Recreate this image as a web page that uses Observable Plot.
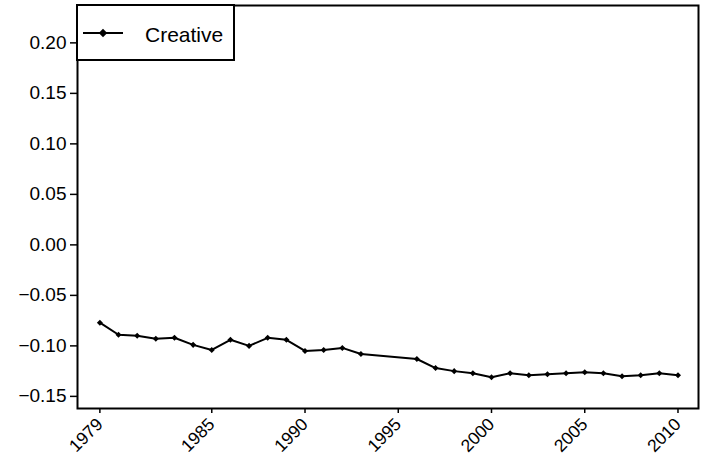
<!DOCTYPE html>
<html>
<head>
<meta charset="utf-8">
<script src="https://cdn.jsdelivr.net/npm/d3@7"></script>
<script src="https://cdn.jsdelivr.net/npm/@observablehq/plot@0.6"></script>
<style>
  html, body { margin: 0; padding: 0; background: #fff; }
  #chart { position: relative; width: 707px; height: 468px; }
  #legend { position: absolute; left: 0; top: 0; }
</style>
</head>
<body>
<div id="chart"></div>
<script>
// Yearly index for the "Creative" series (no observations for 1994–1995)
const years = [1979, 1980, 1981, 1982, 1983, 1984, 1985, 1986, 1987, 1988, 1989, 1990, 1991, 1992, 1993,
               1996, 1997, 1998, 1999, 2000, 2001, 2002, 2003, 2004, 2005, 2006, 2007, 2008, 2009, 2010];
const creative = [-0.077, -0.089, -0.090, -0.093, -0.092, -0.099, -0.104, -0.094, -0.100, -0.092, -0.094, -0.105, -0.104, -0.102, -0.108,
                  -0.113, -0.122, -0.125, -0.127, -0.131, -0.127, -0.129, -0.128, -0.127, -0.126, -0.127, -0.130, -0.129, -0.127, -0.129];
const seriesName = "Creative";
const xTicks = [1979, 1985, 1990, 1995, 2000, 2005, 2010];
const yTicks = [-0.15, -0.10, -0.05, 0.00, 0.05, 0.10, 0.15, 0.20];

const data = years.map((year, i) => ({year, value: creative[i]}));

const font = "'Liberation Sans', Arial, Helvetica, sans-serif";
const fmtY = d => d3.format(".2f")(d).replace(/^[-\u2212]/, "\u2212");

const plot = Plot.plot({
  width: 707,
  height: 468,
  marginLeft: 77,
  marginRight: 9,
  marginTop: 5,
  marginBottom: 60,
  style: {fontFamily: font, color: "black", background: "white"},
  x: {domain: [1977.8, 2011.1], label: null},
  y: {domain: [-0.162, 0.237], label: null},
  marks: [
    Plot.axisX({ticks: xTicks, tickFormat: d => String(d), tickRotate: -45, tickSize: 5, tickPadding: 8,
                fontSize: 17.5, strokeWidth: 1.5, label: null}),
    Plot.axisY({ticks: yTicks, tickFormat: fmtY, tickSize: 7, tickPadding: 4,
                fontSize: 19, strokeWidth: 1.5, label: null}),
    Plot.line(data, {x: "year", y: "value", stroke: "black", strokeWidth: 2}),
    Plot.dot(data, {x: "year", y: "value", symbol: "square", rotate: 45, r: 2.4, fill: "black"}),
    Plot.frame({stroke: "black", strokeWidth: 2})
  ]
});

// Tick label type: Helvetica-like, sized per axis
d3.select(plot).selectAll("text").style("font-family", font);
d3.select(plot).selectAll('g[aria-label="y-axis tick label"] text').style("font-size", "19px");
d3.select(plot).selectAll('g[aria-label="x-axis tick label"] text').style("font-size", "17.5px");

const chart = document.getElementById("chart");
chart.appendChild(plot);

// Legend box in the upper-left corner of the panel
const leg = d3.create("svg")
  .attr("id", "legend")
  .attr("width", 240)
  .attr("height", 64)
  .style("font-family", font);
leg.append("rect")
  .attr("x", 77).attr("y", 5).attr("width", 157).attr("height", 55)
  .attr("fill", "white").attr("stroke", "black").attr("stroke-width", 2);
leg.append("line")
  .attr("x1", 83).attr("x2", 123).attr("y1", 33).attr("y2", 33)
  .attr("stroke", "black").attr("stroke-width", 2);
leg.append("rect")
  .attr("x", -3).attr("y", -3).attr("width", 6).attr("height", 6)
  .attr("transform", "translate(103,33) rotate(45)")
  .attr("fill", "black");
leg.append("text")
  .attr("x", 145).attr("y", 41.5)
  .style("font-size", "21px")
  .attr("fill", "black")
  .text(seriesName);
chart.appendChild(leg.node());
</script>
</body>
</html>
